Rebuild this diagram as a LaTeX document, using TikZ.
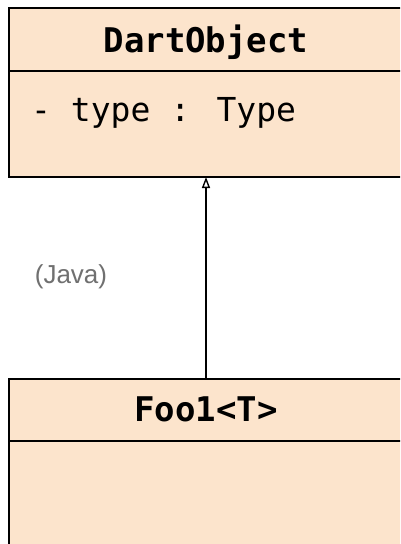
\documentclass[tikz,border=0pt]{standalone}
\usepackage{fontspec}
\setmainfont{Liberation Sans}
\newfontfamily\umlmono{DejaVu Sans Mono}
\usetikzlibrary{arrows.meta}
\definecolor{classfill}{HTML}{FCE4CC}
\definecolor{notegray}{HTML}{707070}
\tikzset{
  classbox/.style={draw=black, line width=2pt, fill=classfill, rectangle,
    anchor=north west, minimum width=394pt, inner sep=0pt, outer sep=0pt},
  classname/.style={anchor=base, inner sep=0pt, font=\umlmono\bfseries\fontsize{34}{40}\selectfont},
  member/.style={anchor=base west, inner sep=0pt, font=\umlmono\fontsize{33}{40}\selectfont},
  divider/.style={line width=2pt},
  inherit/.style={line width=1.4pt, -{Triangle[open, length=11pt, width=8pt, line width=1.4pt]}},
  langnote/.style={text=notegray, inner sep=0pt, font=\fontsize{26}{31}\selectfont}
}
\begin{document}
\begin{tikzpicture}[x=1pt, y=-1pt]
  \clip (0,0) rectangle (400,544);
  \fill[white] (0,0) rectangle (400,544);

  % DartObject class
  \node[classbox, minimum height=169pt] (dart) at (9,8) {};
  \draw[divider] (9,71) -- (403,71);
  \node[classname] (dartname) at (206,52) {DartObject};
  \node[member] (dartattr) at (31,121) {- type : Type};

  % Foo1<T> class
  \node[classbox, minimum height=190pt] (foo) at (9,379) {};
  \draw[divider] (9,441) -- (403,441);
  \node[classname] (fooname) at (206,421) {Foo1<T>};

  % generalization
  \draw[inherit] (foo.north) -- (dart.south);
  \node[langnote] (java) at (71,277) {(Java)};
\end{tikzpicture}
\end{document}
